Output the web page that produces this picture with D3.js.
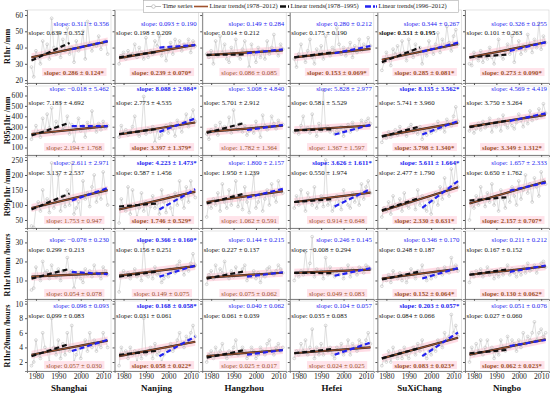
<!DOCTYPE html>
<html><head><meta charset="utf-8">
<script src="https://cdn.jsdelivr.net/npm/d3@7"></script>
<style>
body{margin:0;background:#fff;}
svg{display:block;font-family:"Liberation Serif","Times New Roman",serif;}
</style></head><body>
<svg id="c" width="550" height="394"></svg>
<script>
// ---------------- DATA ----------------
const years = d3.range(1978, 2013);
const cities = ["Shanghai","Nanjing","Hangzhou","Hefei","SuXiChang","Ningbo"];
const indexNames = ["R1hr /mm","R95p1hr /mm","R99p1hr /mm","R1hr10mm /hours","R1hr20mm /hours"];
const xTicks = [1980,1990,2000,2010];
const yTicks = [[20,30,40,50,60],[100,200,300,400,500,600],[50,100,150,200,250],[10,20,30],[2,4,6,8,10]];
const periods = ["1978\u20132012","1978\u20131995","1996\u20132012"];

const r1hr = [
 [28,22,38,34,30,44,36,42,33,58,40,36,49,34,45,38,52,36,40,31,44,38,40,50,33,56,42,38,42,41,47,39,43,44,36],
 [30,35,37,33,38,35,36,42,34,40,37,33,46,34,38,36,44,41,47,35,40,32,38,43,36,45,40,44,38,42,40,45,37,44,41],
 [36,34,38,30,44,35,47,37,42,33,31,40,36,45,35,33,39,44,37,28,42,36,31,40,34,38,33,44,36,40,48,38,35,42,39],
 [33,28,36,42,35,31,38,45,34,30,39,36,41,33,47,37,35,40,38,52,42,36,40,35,39,43,34,41,37,45,38,42,40,46,41],
 [26,31,37,33,29,39,36,41,35,44,37,32,45,38,34,42,36,40,30,38,35,44,39,36,42,49,37,45,40,53,43,38,47,51,42],
 [30,29,37,34,32,38,31,35,33,40,34,30,37,45,35,33,38,42,36,47,31,39,44,36,41,38,48,42,37,45,40,55,39,47,43]
];
const r95p1hr = [
 [180,230,310,250,200,380,260,420,290,480,240,350,300,530,270,310,400,230,320,150,290,380,260,310,200,340,280,450,300,250,330,270,350,290,310],
 [200,310,240,270,220,250,300,400,240,210,260,590,230,280,250,300,150,270,190,220,260,310,240,330,280,210,360,300,250,340,420,300,380,460,350],
 [230,180,270,250,310,220,340,280,300,260,390,240,460,300,270,330,250,310,220,260,300,240,350,280,200,410,310,270,290,400,330,280,360,310,320],
 [250,270,230,310,400,260,290,240,420,280,210,330,260,650,270,300,250,280,230,260,240,300,210,280,320,250,340,290,270,300,360,310,350,380,330],
 [150,210,190,250,200,230,270,220,300,240,260,210,290,320,250,270,230,300,180,260,220,280,240,310,260,350,280,300,250,370,330,310,400,490,350],
 [260,300,240,280,330,270,350,290,310,380,250,330,300,370,260,410,320,290,350,310,280,340,420,360,300,390,330,450,360,410,380,470,400,520,430]
];
const r99p1hr = [
 [30,25,90,110,80,150,100,120,75,240,90,110,200,80,130,95,150,100,240,70,90,110,55,180,120,140,95,160,200,110,140,120,210,150,100],
 [40,120,90,80,160,70,150,100,60,90,140,80,110,55,95,130,90,105,70,150,110,75,130,90,60,140,100,180,120,90,160,110,180,140,125],
 [60,110,90,120,100,140,80,170,110,90,150,100,130,180,95,120,85,160,110,75,130,200,90,110,140,80,120,150,100,170,130,110,180,150,140],
 [90,130,100,150,110,80,140,120,100,160,90,110,130,95,250,100,115,80,95,130,110,85,150,120,100,90,140,110,130,100,170,120,160,180,140],
 [60,90,80,110,70,130,100,90,120,80,140,100,90,110,120,85,150,100,130,90,80,120,70,110,140,100,160,120,190,150,130,220,170,240,160],
 [50,110,90,130,100,160,120,95,140,110,170,100,130,80,150,120,90,140,110,160,130,100,180,120,150,200,140,170,110,190,160,130,210,180,170]
];
const r1hr10mm = [
 [5,6,17,12,10,20,14,15,11,18,13,12,16,10,15,14,22,13,15,6,12,14,11,9,16,13,15,12,18,14,13,11,17,15,13],
 [4,13,15,12,14,11,13,16,12,14,10,30,13,12,15,11,17,13,14,9,11,13,12,16,15,14,18,20,16,13,17,15,19,24,18],
 [8,13,15,11,18,12,16,14,20,13,11,15,12,17,13,14,16,18,10,13,12,15,11,14,9,13,12,16,17,14,13,15,18,16,14],
 [10,14,12,15,13,25,14,19,33,12,16,14,15,11,22,13,17,14,12,15,13,16,11,14,18,12,16,15,13,17,16,14,18,17,16],
 [7,11,10,13,9,15,12,11,14,10,13,9,12,16,13,11,15,14,18,12,10,13,11,14,12,16,15,13,17,15,14,22,16,18,15],
 [9,14,12,15,13,16,12,14,17,13,15,11,14,12,16,13,15,18,13,16,14,12,15,13,17,14,19,15,16,18,14,17,19,20,17]
];
const r1hr20mm = [
 [1.5,2,5,3,2.5,6,4,3.5,2,8,4,3,5,2.5,4.5,3,6,3.5,7,2,3,4,2.5,4,5,3.5,6,4,5,3.5,4.5,4,6,5,4],
 [1.5,4,3,3.5,2.5,4,3,3.5,2,3.5,2.5,8,3,3.5,4,2.5,4.5,3,3.5,2,3,4,3.5,4.5,3.5,4,5,6,4.5,4,5.5,5,6,7,5.5],
 [2,3,3.5,2.5,4,3,3.5,4.5,3,2.5,3.5,3,4,5,3,3.5,4,3.5,2.5,3,4,3.5,2.5,3,4,3.5,3,4.5,5,3.5,3,4,4.5,3.5,4],
 [2.5,3.5,3,4.5,3.5,5,3,4,6.5,2.5,4,3,4.5,3,7,3.5,4,3,2.5,4,3.5,4.5,3,3.5,5,3,4.5,4,3.5,5,4.5,4,5,6,4.5],
 [1.5,2.5,2,3.5,2,4,3,2.5,3.5,2.5,4,3,2.5,3.5,4,3,4.5,3.5,5,3,2.5,3.5,3,4,3.5,5,4.5,4,6,5,5.5,8.5,6,7,5.5],
 [2,4,3,4.5,3.5,5,3,4,5,3.5,4,2.5,3.5,3,5,4,3.5,5.5,4,5,4.5,3.5,5,4,6,4.5,5.5,5,6,7.5,5,6,6.5,5.5,6]
];
const seriesRows = [r1hr, r95p1hr, r99p1hr, r1hr10mm, r1hr20mm];

// trend slopes [index][city]
const slopeFull = [[0.286,0.239,0.086,0.153,0.285,0.273],[2.194,3.397,1.782,1.367,3.798,3.349],[1.753,1.746,1.062,0.914,2.330,2.157],[0.054,0.149,0.075,0.049,0.152,0.130],[0.057,0.058,0.025,0.024,0.083,0.062]];
const errFull   = [[0.124,0.070,0.085,0.069,0.081,0.090],[1.768,1.379,1.364,1.597,1.340,1.312],[0.947,0.529,0.591,0.648,0.631,0.707],[0.078,0.075,0.062,0.083,0.064,0.062],[0.030,0.022,0.017,0.025,0.023,0.023]];
const sigFull   = [[2,2,0,2,2,2],[0,2,0,0,2,2],[0,2,0,0,2,2],[0,0,0,0,2,2],[0,2,0,0,2,2]];
const slopeEarly = [[0.639,0.198,0.014,0.175,0.531,0.101],[7.183,2.773,5.701,0.581,5.741,3.750],[3.137,0.587,1.950,0.550,2.477,0.650],[0.299,0.156,0.227,-0.008,0.248,0.167],[0.099,0.031,0.061,0.035,0.084,0.027]];
const errEarly   = [[0.352,0.209,0.212,0.190,0.195,0.263],[4.692,4.535,2.912,5.529,3.960,3.264],[2.537,1.456,1.239,1.974,1.790,1.762],[0.213,0.251,0.137,0.294,0.187,0.152],[0.083,0.061,0.039,0.083,0.066,0.060]];
const sigEarly   = [[0,0,0,0,1,0],[0,0,0,0,0,0],[0,0,0,0,0,0],[0,0,0,0,0,0],[0,0,0,0,0,0]];
const slopeLate = [[0.311,0.093,0.149,0.280,0.344,0.326],[-0.018,8.088,3.008,5.828,8.135,4.569],[2.611,4.223,1.800,3.626,5.611,1.657],[-0.076,0.366,0.144,0.246,0.346,0.211],[0.096,0.168,0.040,0.104,0.203,0.051]];
const errLate   = [[0.356,0.190,0.284,0.212,0.267,0.255],[5.462,2.984,4.840,2.977,3.562,4.419],[2.971,1.473,2.157,1.611,1.664,2.333],[0.230,0.160,0.215,0.145,0.170,0.212],[0.093,0.058,0.062,0.057,0.057,0.076]];
const sigLate   = [[0,0,0,0,0,0],[0,2,0,0,2,0],[0,2,0,2,2,0],[0,2,0,0,0,0],[0,2,0,0,2,0]];
// trend values at first year of each period
const startFull  = [[34,33.5,35.4,34,32.5,34],[230,225,250,265,210,300],[90,85,110,110,80,105],[12,12.5,11.5,14,11,13],[3,2.8,2.8,3.2,2.5,3]];
const startEarly = [[32,34,35.5,34,31,34],[215,230,240,265,205,295],[85,95,105,110,82,115],[11,12,11,14,10.5,13],[2.8,3,2.6,3.2,2.5,3.2]];
const startLate  = [[39,40,36.5,36.5,37.5,38],[305,250,268,225,225,355],[115,85,125,95,90,148],[14.5,12,12,12.5,11,14.5],[3.5,2.8,3,3,2.8,4.2]];
const periodYears = [[1978,2012],[1978,1995],[1996,2012]];

// ---------------- LAYOUT ----------------
const svg = d3.select("#c");
const panelW = 84;
const colLeft = c => 27 + c * 87.6;
const rowBox = [[10,83],[86,155],[157,228],[231,299],[301,371]];
const yDomains = [[18.2,63.1],[28,691],[23.3,260],[0.26,36],[0.77,10.36]];
const textY = [[24,33,73],[89,103,148],[163,173,221],[240,250,294],[306,316,366]];
const C = {series:"#cacaca", pt:"#b3b3b3", full:"#a0522d", early:"#111", late:"#2323f0", band:"#ffd6e1", tag:"#ffe3ea"};
const fmt = d3.format(".3f");
const label = (s,e,g) => "slope: " + fmt(s) + " \u00b1 " + fmt(e) + (g===2 ? "*" : "");

const x = d3.scaleLinear().domain([1976, 2013.5]).range([0, panelW]);

indexNames.forEach((nm, r) => {
  const [top, bot] = rowBox[r];
  const y = d3.scaleLinear().domain(yDomains[r]).range([bot, top]);
  svg.append("text").attr("transform", `translate(8,${(top+bot)/2}) rotate(-90)`)
    .attr("text-anchor","middle").attr("dominant-baseline","middle")
    .attr("font-size",8).attr("font-weight","bold").attr("fill","#111").text(nm);

  cities.forEach((city, c) => {
    const g = svg.append("g").attr("transform", `translate(${colLeft(c)},0)`);
    g.append("rect").attr("x",0).attr("y",top).attr("width",panelW).attr("height",bot-top)
      .attr("fill","#fff").attr("stroke","#d2d2d2").attr("stroke-width",0.6);

    const trend = (start, slope, p) => periodYears[p].map(yr => ({yr, v: start + slope*(yr - periodYears[p][0])}));
    const fullPts = trend(startFull[r][c], slopeFull[r][c], 0);
    g.append("path").attr("fill", C.band).attr("opacity",0.85)
      .attr("d", d3.area().x(d=>x(d.yr)).y0(d=>y(d.v)+4).y1(d=>y(d.v)-4)(fullPts));

    const vals = seriesRows[r][c].map((v,i)=>({yr:years[i], v}));
    g.append("path").attr("fill","none").attr("stroke",C.series).attr("stroke-width",0.6)
      .attr("d", d3.line().x(d=>x(d.yr)).y(d=>y(d.v))(vals));
    g.selectAll("circle.p").data(vals).join("circle").attr("class","p")
      .attr("cx",d=>x(d.yr)).attr("cy",d=>y(d.v)).attr("r",1.4)
      .attr("fill","none").attr("stroke",C.pt).attr("stroke-width",0.5);

    const ln = d3.line().x(d=>x(d.yr)).y(d=>y(d.v));
    g.append("path").attr("d", ln(fullPts)).attr("stroke","#222").attr("stroke-width",2.2).attr("fill","none");
    g.append("path").attr("d", ln(fullPts)).attr("stroke",C.full).attr("stroke-width",1.2).attr("fill","none");
    g.append("path").attr("d", ln(trend(startEarly[r][c], slopeEarly[r][c], 1)))
      .attr("stroke",C.early).attr("stroke-width",2.2).attr("stroke-dasharray","5,3").attr("fill","none");
    g.append("path").attr("d", ln(trend(startLate[r][c], slopeLate[r][c], 2)))
      .attr("stroke",C.late).attr("stroke-width",2.2).attr("stroke-dasharray","5,3").attr("fill","none");

    const ya = g.append("g").call(d3.axisLeft(y).tickValues(yTicks[r]).tickSize(2).tickPadding(2)
      .tickFormat(c===0 ? d3.format("d") : ""));
    const xa = g.append("g").attr("transform",`translate(0,${bot})`)
      .call(d3.axisBottom(x).tickValues(xTicks).tickSize(2).tickPadding(1)
      .tickFormat(r===4 ? d3.format("d") : ""));
    [ya, xa].forEach(a => {
      a.select(".domain").attr("stroke","#555").attr("stroke-width",0.7);
      a.selectAll(".tick line").attr("stroke","#555");
      a.selectAll("text").attr("font-size",7.6).attr("fill","#222").attr("font-family","Liberation Serif, serif");
    });

    g.append("text").attr("x",panelW-2).attr("y",textY[r][0]).attr("text-anchor","end")
      .attr("dominant-baseline","middle").attr("font-size",6.8).attr("fill",C.late)
      .attr("font-weight", sigLate[r][c] ? "bold" : "normal")
      .text(label(slopeLate[r][c], errLate[r][c], sigLate[r][c]));
    g.append("text").attr("x",1.5).attr("y",textY[r][1]).attr("text-anchor","start")
      .attr("dominant-baseline","middle").attr("font-size",6.8).attr("fill","#111")
      .attr("font-weight", sigEarly[r][c] ? "bold" : "normal")
      .text(label(slopeEarly[r][c], errEarly[r][c], sigEarly[r][c]));
    const bt = g.append("text").attr("x",panelW/2+5).attr("y",textY[r][2]).attr("text-anchor","middle")
      .attr("dominant-baseline","middle").attr("font-size",6.8).attr("fill",C.full)
      .attr("font-weight", sigFull[r][c] ? "bold" : "normal")
      .text(label(slopeFull[r][c], errFull[r][c], sigFull[r][c]));
    const bb = bt.node().getBBox();
    g.insert("rect", () => bt.node()).attr("x",bb.x-2).attr("y",bb.y-0.5).attr("width",bb.width+4).attr("height",bb.height+1)
      .attr("fill",C.tag);

    if (r === 4) {
      svg.append("text").attr("x", colLeft(c)+panelW/2).attr("y",391).attr("text-anchor","middle")
        .attr("font-size",9).attr("font-weight","bold").attr("fill","#111").text(city);
    }
  });
});

// ---------------- LEGEND ----------------
const lg = svg.append("g");
lg.append("rect").attr("x",143.5).attr("y",0.5).attr("width",315).attr("height",12)
  .attr("fill","#fff").attr("stroke","#aaa").attr("stroke-width",0.6);
const ly = 6.5;
const items = [
  {x:146, w:15, type:"series", text:"Time series"},
  {x:194, w:14, type:"full", text:"Linear trends(" + periods[0] + ")"},
  {x:280, w:9, type:"early", text:"Linear trends(" + periods[1] + ")"},
  {x:365, w:12, type:"late", text:"Linear trends(" + periods[2] + ")"}
];
items.forEach(it => {
  if (it.type === "series") {
    lg.append("line").attr("x1",it.x).attr("x2",it.x+it.w).attr("y1",ly).attr("y2",ly).attr("stroke","#aaa").attr("stroke-width",0.8);
    lg.append("circle").attr("cx",it.x+it.w/2).attr("cy",ly).attr("r",1.8).attr("fill","#fff").attr("stroke","#aaa").attr("stroke-width",0.6);
  } else if (it.type === "full") {
    lg.append("line").attr("x1",it.x).attr("x2",it.x+it.w).attr("y1",ly).attr("y2",ly).attr("stroke",C.full).attr("stroke-width",1.6);
  } else {
    lg.append("line").attr("x1",it.x).attr("x2",it.x+it.w).attr("y1",ly).attr("y2",ly)
      .attr("stroke", it.type==="early" ? C.early : C.late).attr("stroke-width",2.3).attr("stroke-dasharray","6,2,2,1");
  }
  lg.append("text").attr("x",it.x+it.w+1.5).attr("y",ly).attr("dominant-baseline","middle")
    .attr("font-size",6.5).attr("fill","#222").text(it.text);
});
</script></body></html>
